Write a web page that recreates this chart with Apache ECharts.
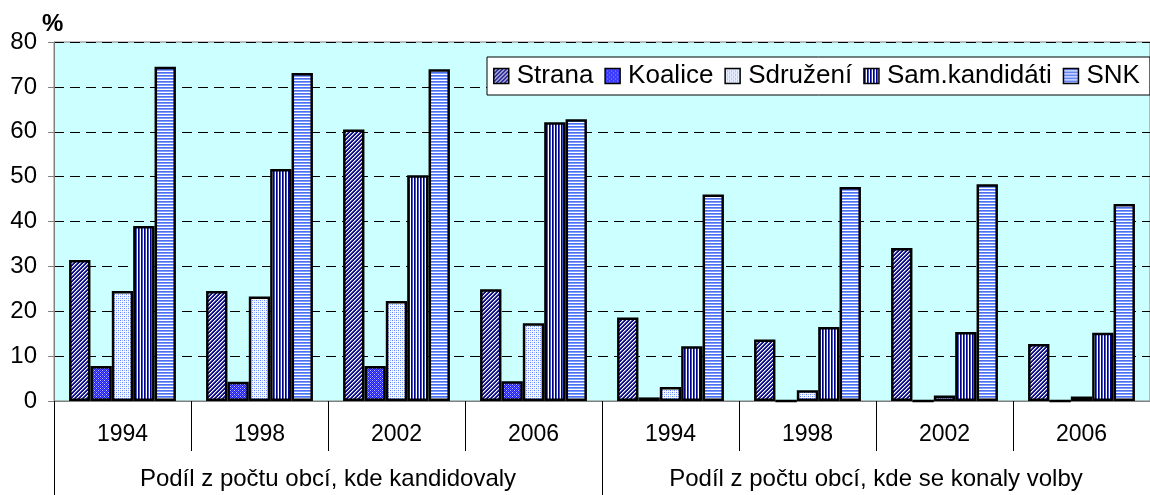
<!DOCTYPE html>
<html>
<head>
<meta charset="utf-8">
<script src="https://cdn.jsdelivr.net/npm/echarts@6/dist/echarts.min.js"></script>
<style>
    html, body { margin: 0; padding: 0; background: #fff; }
    #chart { width: 1150px; height: 495px; }
</style>
</head>
<body>
<div id="chart"></div>
<script>
var years = ['1994', '1998', '2002', '2006', '1994', '1998', '2002', '2006'];
var groups = ['Podíl z počtu obcí, kde kandidovaly', 'Podíl z počtu obcí, kde se konaly volby'];
var seriesNames = ['Strana', 'Koalice', 'Sdružení', 'Sam.kandidáti', 'SNK'];
var strana = [31.4, 24.5, 60.5, 24.9, 18.6, 13.7, 34.1, 12.7];
var koalice = [7.8, 4.3, 7.8, 4.4, 0.8, 0, 0, 0];
var sdruzeni = [24.5, 23.3, 22.3, 17.3, 3.1, 2.4, 1.2, 1.0];
var samKand = [39.0, 51.7, 50.3, 62.1, 12.2, 16.5, 15.4, 15.2];
var snk = [74.5, 73.1, 73.9, 62.8, 46.0, 47.7, 48.3, 43.9];

var FONT = '"Liberation Sans", Arial, sans-serif';

// pixel patterns for the bar fills
function hex(c) {
    return [parseInt(c.substr(1, 2), 16), parseInt(c.substr(3, 2), 16), parseInt(c.substr(5, 2), 16)];
}
function makePattern(w, h, fn) {
    var cv = document.createElement('canvas');
    cv.width = w; cv.height = h;
    var ctx = cv.getContext('2d');
    var img = ctx.createImageData(w, h);
    for (var y = 0; y < h; y++) {
        for (var x = 0; x < w; x++) {
            var c = hex(fn(x, y));
            var i = (y * w + x) * 4;
            img.data[i] = c[0]; img.data[i + 1] = c[1]; img.data[i + 2] = c[2]; img.data[i + 3] = 255;
        }
    }
    ctx.putImageData(img, 0, 0);
    return { image: cv, repeat: 'repeat' };
}

var patStrana = makePattern(4, 4, function (x, y) {
    var k = (x + y) % 4;
    return k < 2 ? '#10108a' : (k == 2 ? '#ffffff' : '#8080c8');
});
var patKoalice = makePattern(4, 4, function (x, y) {
    if ((x % 4 == 0 && y % 4 == 0) || (x % 4 == 2 && y % 4 == 2)) return '#c0c0ff';
    if ((x + y) % 2 == 0) return '#5a5aff';
    return '#1c1cff';
});
var patSdruzeni = makePattern(4, 4, function (x, y) {
    if ((x % 4 == 0 && y % 4 == 0) || (x % 4 == 2 && y % 4 == 2)) return '#5c80ff';
    if (x % 2 == 0 && y % 2 == 0) return '#a4bcff';
    return '#f4f7ff';
});
var patSam = makePattern(3, 3, function (x, y) {
    var k = x % 3;
    return k == 0 ? '#000080' : (k == 1 ? '#4455cc' : '#ffffff');
});
var patSnk = makePattern(3, 3, function (x, y) {
    var k = y % 3;
    return k == 0 ? '#4d70f0' : (k == 1 ? '#7f9cff' : '#ffffff');
});

var values = [strana, koalice, sdruzeni, samKand, snk];
var patterns = [patStrana, patKoalice, patSdruzeni, patSam, patSnk];

var series = [];
for (var i = 0; i < seriesNames.length; i++) {
    series.push({
        name: seriesNames[i],
        type: 'bar',
        xAxisIndex: 0,
        barGap: 0,
        barCategoryGap: '22%',
        itemStyle: {
            color: patterns[i],
            borderColor: '#000',
            borderWidth: 2.5
        },
        data: values[i]
    });
}

var chart = echarts.init(document.getElementById('chart'));
var option = {
    animation: false,
    title: {
        text: '%',
        left: 37,
        top: 7,
        textStyle: { fontFamily: FONT, fontSize: 24, fontWeight: 'bold', color: '#000' }
    },
    legend: {
        left: 487,
        top: 57,
        width: 720,
        backgroundColor: '#fff',
        borderColor: '#000',
        borderWidth: 1,
        padding: [6, 10, 6, 6],
        itemWidth: 15,
        itemHeight: 15,
        itemGap: 11,
        icon: 'rect',
        itemStyle: { borderColor: '#000', borderWidth: 1.5 },
        textStyle: { fontFamily: FONT, fontSize: 26, color: '#000', padding: [0, 0, 0, 3] },
        data: seriesNames
    },
    grid: {
        left: 54,
        right: -8,
        top: 42,
        bottom: 94,
        show: true,
        backgroundColor: '#ccffff',
        borderColor: '#808080',
        borderWidth: 1
    },
    xAxis: [
        {
            type: 'category',
            position: 'bottom',
            data: years,
            axisLine: { show: true, lineStyle: { color: '#808080', width: 1 } },
            axisTick: { show: true, interval: 0, length: 50, lineStyle: { color: '#000', width: 1 } },
            axisLabel: { show: true, interval: 0, margin: 22, fontFamily: FONT, fontSize: 23, color: '#000' }
        },
        {
            type: 'category',
            position: 'bottom',
            offset: 0,
            data: groups,
            axisLine: { show: false },
            axisTick: { show: true, interval: 0, length: 94, lineStyle: { color: '#000', width: 1 } },
            axisLabel: { show: true, interval: 0, margin: 66, fontFamily: FONT, fontSize: 24, color: '#000' }
        }
    ],
    yAxis: {
        type: 'value',
        min: 0,
        max: 80,
        interval: 10,
        axisLine: { show: true, lineStyle: { color: '#808080' } },
        axisTick: { show: true, length: 6, lineStyle: { color: '#808080' } },
        axisLabel: { margin: 17, fontFamily: FONT, fontSize: 24, color: '#000' },
        splitLine: { lineStyle: { type: [10, 6], color: '#000', width: 1 } }
    },
    series: series
};
chart.setOption(option);
</script>
</body>
</html>
